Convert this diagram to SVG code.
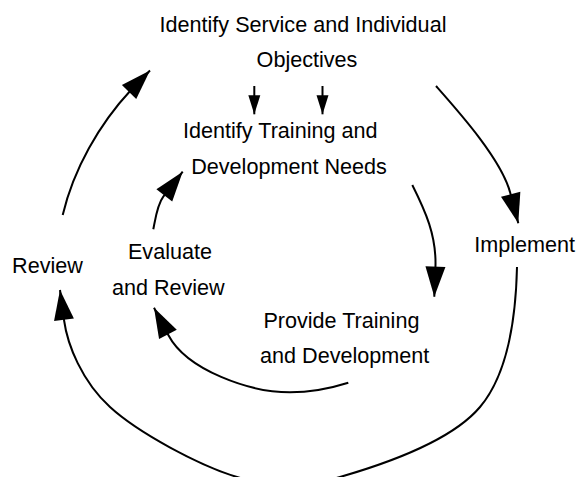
<svg xmlns="http://www.w3.org/2000/svg" width="579" height="477" viewBox="0 0 579 477">
  <style>
    .lbl { font-family: "Liberation Sans", Arial, sans-serif; font-size: 21.6px; fill: #000; text-anchor: middle; }
    .arc { fill: none; stroke: #000; stroke-width: 2; marker-end: url(#big); }
    .short { fill: none; stroke: #000; stroke-width: 2; marker-end: url(#small); }
  </style>
  <defs>
    <marker id="big" markerUnits="userSpaceOnUse" markerWidth="32" markerHeight="22" refX="30" refY="10" orient="auto" overflow="visible">
      <path d="M0,0 L30,10 L0,20 z" fill="#000"/>
    </marker>
    <marker id="small" markerUnits="userSpaceOnUse" markerWidth="20" markerHeight="13" refX="19" refY="6" orient="auto" overflow="visible">
      <path d="M0,0 L19,6 L0,12 z" fill="#000"/>
    </marker>
  </defs>
  <rect width="579" height="477" fill="#fff"/>

  <g id="connectors">
    <path class="arc" d="M62.7,215 C73.5,169.4 99,124.3 131,90 L150,70.5"/>
    <path class="arc" d="M436,86 C459,112 502,160 510.5,193.7 L518.3,223.3"/>
    <path class="arc" d="M412.3,185 C425.8,212 436,235 435.5,265 L434.3,296.7"/>
    <path class="arc" d="M348.3,382.7 C329.3,388.7 309,392.3 290,392.3 C250,392.3 186.9,370.4 168.3,335 L154,307.7"/>
    <path class="arc" d="M153.3,229.3 C155.3,219.3 157.2,204.6 163.3,196.7 L182.7,171.7"/>
    <path class="arc" d="M517,267 C516,312 509.5,372 480,407 C450.5,442 380.5,465.3 340,477 C299.5,488.7 275.3,488.7 237,477 C198.7,465.3 138.2,432.8 110,407 C81.8,381.2 67.4,344.8 64,320 L60,290"/>
    <path class="short" d="M254.3,86 L254.3,114.3"/>
    <path class="short" d="M322.5,86 L322.5,114.3"/>
  </g>

  <g id="node-objectives">
    <text class="lbl" x="303" y="31.5">Identify Service and Individual</text>
    <text class="lbl" x="307" y="67">Objectives</text>
  </g>
  <g id="node-needs">
    <text class="lbl" x="280.3" y="137.7">Identify Training and</text>
    <text class="lbl" x="289" y="174">Development Needs</text>
  </g>
  <g id="node-implement">
    <text class="lbl" x="524.6" y="251.7">Implement</text>
  </g>
  <g id="node-review">
    <text class="lbl" x="47.5" y="273.3">Review</text>
  </g>
  <g id="node-evaluate">
    <text class="lbl" x="170" y="259.3">Evaluate</text>
    <text class="lbl" x="168.3" y="295">and Review</text>
  </g>
  <g id="node-provide">
    <text class="lbl" x="341.4" y="328.3">Provide Training</text>
    <text class="lbl" x="344.7" y="363.3">and Development</text>
  </g>
</svg>
